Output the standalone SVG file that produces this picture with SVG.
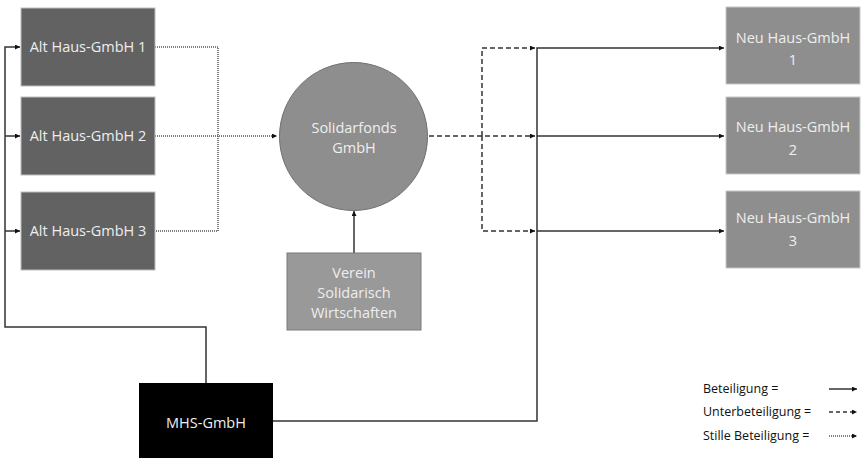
<svg xmlns="http://www.w3.org/2000/svg" width="864" height="458" viewBox="0 0 864 458">
<defs>
<marker id="ah" viewBox="0 0 10 10" refX="10" refY="5" markerWidth="5" markerHeight="5" orient="auto" markerUnits="userSpaceOnUse"><path d="M0,0 L10,5 L0,10 z" fill="#111"/></marker>
<style>
text{font-family:"Open Sans","Liberation Sans",sans-serif;font-size:14.5px;fill:#eeeeee;text-anchor:middle}
.alt{fill:#626262;stroke:#bdbdbd;stroke-width:1}
.neu{fill:#8e8e8e;stroke:#c8c8c8;stroke-width:1}
.solid{fill:none;stroke:#333;stroke-width:1.5}
.dash{fill:none;stroke:#333;stroke-width:1.5;stroke-dasharray:5,3}
.dot{fill:none;stroke:#555;stroke-width:1.5;stroke-dasharray:1,1}
.leg{fill:#111;text-anchor:start;font-size:12.5px}
</style>
</defs>
<rect width="864" height="458" fill="#fff"/>
<g id="connectors">
<path class="solid" d="M206,383 V327 H5 V47 H20" marker-end="url(#ah)"/>
<path class="solid" d="M5,136 H20" marker-end="url(#ah)"/>
<path class="solid" d="M5,231 H20" marker-end="url(#ah)"/>
<path class="dot" d="M155,47 H218 V231 H155"/>
<path class="dot" d="M155,136 H277" marker-end="url(#ah)"/>
<path class="solid" d="M354,253 V211" marker-end="url(#ah)"/>
<path class="dash" d="M429,136 H535" marker-end="url(#ah)"/>
<path class="dash" d="M482,136 V48 H535" marker-end="url(#ah)"/>
<path class="dash" d="M482,136 V231 H535" marker-end="url(#ah)"/>
<path class="solid" d="M273,421 H537 V48 H724" marker-end="url(#ah)"/>
<path class="solid" d="M537,136 H724" marker-end="url(#ah)"/>
<path class="solid" d="M537,231 H724" marker-end="url(#ah)"/>
<path class="solid" d="M829,389 H857" marker-end="url(#ah)"/>
<path class="dash" d="M829,412 H857" style="stroke-dasharray:4,3" marker-end="url(#ah)"/>
<path class="dot" d="M829,436 H857" marker-end="url(#ah)"/>
</g>
<g id="alt1"><rect class="alt" x="21" y="8" width="134" height="78"/><text x="88" y="52">Alt Haus-GmbH 1</text></g>
<g id="alt2"><rect class="alt" x="21" y="97" width="134" height="78"/><text x="88" y="141">Alt Haus-GmbH 2</text></g>
<g id="alt3"><rect class="alt" x="21" y="192" width="134" height="78"/><text x="88" y="236">Alt Haus-GmbH 3</text></g>
<g id="solidarfonds"><circle cx="353.5" cy="136.5" r="74" fill="#8e8e8e" stroke="#6f6f6f" stroke-width="1"/><text x="354" y="133">Solidarfonds</text><text x="354" y="153">GmbH</text></g>
<g id="verein"><rect x="287" y="253" width="134" height="77" fill="#999999" stroke="#7a7a7a"/><text x="354" y="278">Verein</text><text x="354" y="298">Solidarisch</text><text x="354" y="318">Wirtschaften</text></g>
<g id="neu1"><rect class="neu" x="726" y="7" width="134" height="77"/><text x="793" y="43">Neu Haus-GmbH</text><text x="793" y="65">1</text></g>
<g id="neu2"><rect class="neu" x="726" y="97" width="134" height="77"/><text x="793" y="132">Neu Haus-GmbH</text><text x="793" y="155">2</text></g>
<g id="neu3"><rect class="neu" x="726" y="191" width="134" height="77"/><text x="793" y="223">Neu Haus-GmbH</text><text x="793" y="246">3</text></g>
<g id="mhs"><rect x="139" y="383" width="134" height="80" fill="#000"/><text x="206" y="428">MHS-GmbH</text></g>
<g id="legend">
<text class="leg" x="703" y="393">Beteiligung =</text>
<text class="leg" x="703" y="416">Unterbeteiligung =</text>
<text class="leg" x="703" y="440">Stille Beteiligung =</text>
</g>
</svg>
